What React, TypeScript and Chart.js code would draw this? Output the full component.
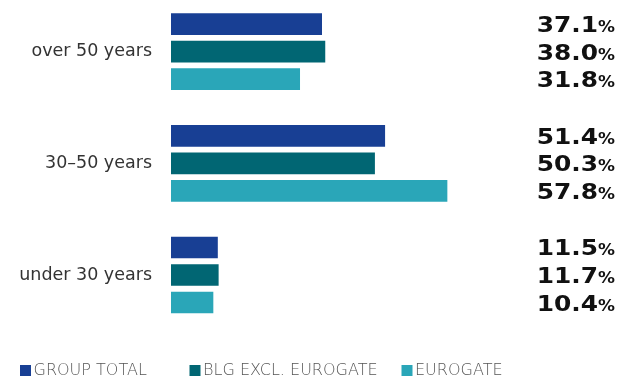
import React, { useEffect, useRef } from 'react';
import { Chart, registerables } from 'chart.js';

Chart.register(...registerables);

const categories = ['over 50 years', '30–50 years', 'under 30 years'];
const seriesNames = ['GROUP TOTAL', 'BLG EXCL. EUROGATE', 'EUROGATE'];
// bar lengths as drawn in the picture
const groupTotal = [37.1, 52.6, 11.5];
const blgExclEurogate = [37.9, 50.1, 11.7];
const eurogate = [31.7, 67.9, 10.4];
// printed value labels
const groupTotalLabels = ['37.1', '51.4', '11.5'];
const blgExclEurogateLabels = ['38.0', '50.3', '11.7'];
const eurogateLabels = ['31.8', '57.8', '10.4'];
const seriesColors = ['#183f94', '#016673', '#2aa6b8'];

const seriesValues = [groupTotal, blgExclEurogate, eurogate];
const seriesLabels = [groupTotalLabels, blgExclEurogateLabels, eurogateLabels];

const LEGEND_X = [20, 189.5, 401.5];
const LEGEND_Y = 370.5;

const valueLabelPlugin = {
  id: 'valueLabels',
  afterDatasetsDraw(chart: any) {
    const ctx = chart.ctx;
    const right = 615;
    chart.data.datasets.forEach((ds: any, di: number) => {
      const meta = chart.getDatasetMeta(di);
      meta.data.forEach((el: any, i: number) => {
        ctx.save();
        ctx.fillStyle = '#111111';
        ctx.textBaseline = 'alphabetic';
        ctx.textAlign = 'right';
        ctx.translate(right, el.y + 8);
        ctx.scale(1.13, 1);
        ctx.font = 'bold 15px "DejaVu Sans"';
        const pw = ctx.measureText('%').width;
        ctx.fillText('%', 0, 0);
        ctx.font = 'bold 22px "DejaVu Sans"';
        ctx.fillText(seriesLabels[di][i], -pw, 0);
        ctx.restore();
      });
    });
  },
};

const legendPlugin = {
  id: 'customLegend',
  afterDraw(chart: any) {
    const ctx = chart.ctx;
    ctx.save();
    ctx.font = '200 16px "DejaVu Sans"';
    ctx.textBaseline = 'middle';
    ctx.textAlign = 'left';
    chart.data.datasets.forEach((ds: any, di: number) => {
      const x = LEGEND_X[di];
      ctx.fillStyle = ds.backgroundColor;
      ctx.fillRect(x, LEGEND_Y - 5.5, 11, 11);
      ctx.fillStyle = '#555555';
      ctx.fillText(ds.label, x + 13.5, LEGEND_Y);
    });
    ctx.restore();
  },
};

export default function App() {
  const canvasRef = useRef<HTMLCanvasElement>(null);

  useEffect(() => {
    if (!canvasRef.current) return;
    const chart = new Chart(canvasRef.current, {
      type: 'bar',
      data: {
        labels: categories,
        datasets: seriesNames.map((name, i) => ({
          label: name,
          data: seriesValues[i],
          backgroundColor: seriesColors[i],
          borderWidth: 0,
          categoryPercentage: 0.739,
          barPercentage: 0.79,
          clip: false as any,
        })),
      },
      options: {
        indexAxis: 'y',
        animation: false,
        responsive: true,
        maintainAspectRatio: false,
        layout: { padding: { top: 51.7, bottom: 103, left: 0, right: 40 } },
        plugins: {
          legend: { display: false },
          tooltip: { enabled: false },
        },
        scales: {
          x: { display: false, min: 0, max: 100 },
          y: {
            type: 'category',
            offset: false,
            grid: { display: false, drawTicks: false },
            border: { display: false },
            ticks: {
              padding: 19,
              color: '#333333',
              font: { family: '"DejaVu Sans"', size: 17.5 },
            },
            afterFit(scale: any) {
              scale.width = 171;
            },
          },
        },
      },
      plugins: [valueLabelPlugin, legendPlugin],
    });
    return () => chart.destroy();
  }, []);

  return (
    <div style={{ position: 'absolute', left: 0, top: 0, width: 618, height: 378 }}>
      <canvas ref={canvasRef} />
    </div>
  );
}
